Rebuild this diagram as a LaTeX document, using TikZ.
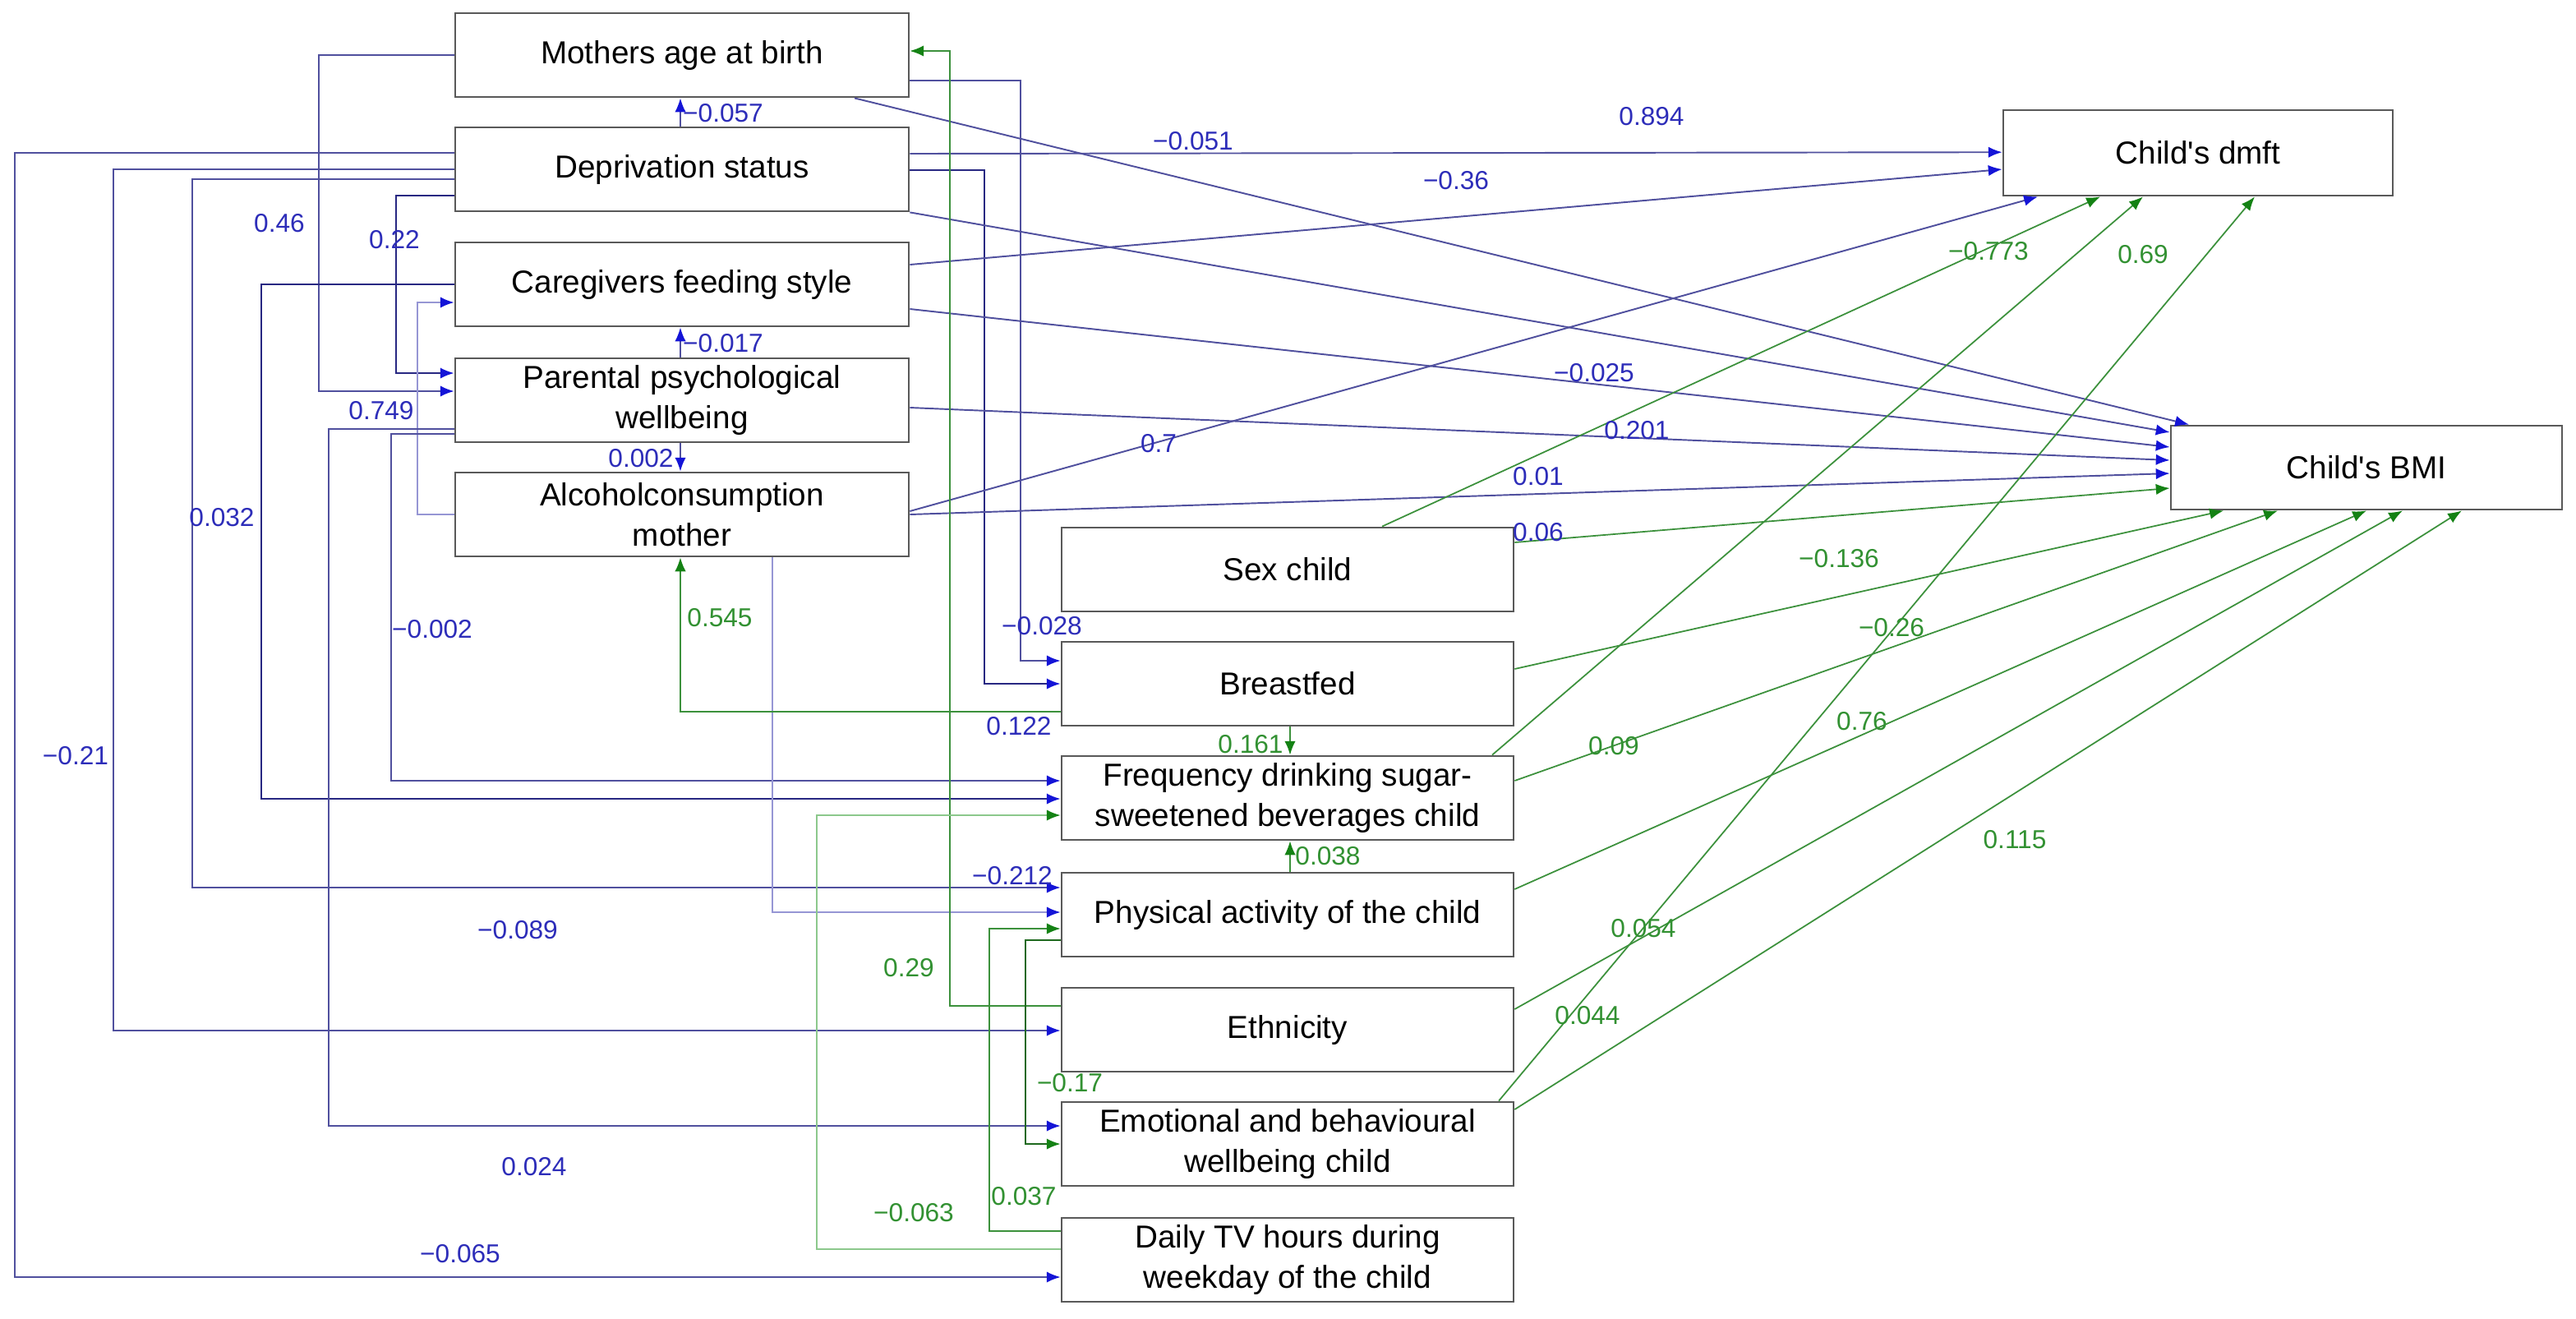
\documentclass[tikz,border=0pt]{standalone}
\usepackage{fontspec}
\setmainfont{Liberation Sans}[Ligatures=TeXOff]
\usetikzlibrary{arrows.meta,calc}
\definecolor{navy}{RGB}{40,40,130}
\definecolor{midblue}{RGB}{80,80,158}
\definecolor{paleblue}{RGB}{150,150,212}
\definecolor{tipblue}{RGB}{20,20,215}
\definecolor{labblue}{RGB}{45,45,185}
\definecolor{dkgreen}{RGB}{30,105,30}
\definecolor{midgreen}{RGB}{60,145,60}
\definecolor{palegreen}{RGB}{140,200,140}
\definecolor{tipgreen}{RGB}{20,130,20}
\definecolor{labgreen}{RGB}{50,145,50}
\begin{document}
\begin{tikzpicture}[x=0.02cm,y=-0.02cm,
  box/.style={draw=black!65, line width=0.8pt, fill=white, minimum height=1.02cm, inner sep=1pt, align=center, font=\fontsize{11}{14}\selectfont},
  lbox/.style={box, minimum width=5.52cm},
  mbox/.style={box, minimum width=5.5cm},
  tb/.style={-{Latex[length=4.8pt,width=3.8pt,color=tipblue]}},
  tg/.style={-{Latex[length=4.8pt,width=3.8pt,color=tipgreen]}},
  bn/.style={tb, draw=navy, line width=0.6pt},
  bl/.style={tb, draw=midblue, line width=0.55pt},
  bp/.style={tb, draw=paleblue, line width=0.55pt},
  gd/.style={tg, draw=dkgreen, line width=0.6pt},
  gm/.style={tg, draw=midgreen, line width=0.5pt},
  gp/.style={tg, draw=palegreen, line width=0.55pt},
  lb/.style={inner sep=0pt, text=labblue, font=\fontsize{9}{10}\selectfont},
  lg/.style={inner sep=0pt, text=labgreen, font=\fontsize{9}{10}\selectfont}
]
\useasboundingbox (0,0) rectangle (1567.5,802);
\fill[white] (0,0) rectangle (1567.5,802);

% boxes
\node[lbox] (mab) at (415,33.5) {Mothers age at birth};
\node[lbox] (dep) at (415,103) {Deprivation status};
\node[lbox] (cfs) at (415,173) {Caregivers feeding style};
\node[lbox] (ppw) at (415,243.5) {Parental psychological\\wellbeing};
\node[lbox] (alc) at (415,313) {Alcoholconsumption\\mother};
\node[mbox] (sex) at (783.5,346.5) {Sex child};
\node[mbox] (bf) at (783.5,416) {Breastfed};
\node[mbox] (fsb) at (783.5,485.5) {Frequency drinking sugar-\\sweetened beverages child};
\node[mbox] (pa) at (783.5,556.5) {Physical activity of the child};
\node[mbox] (eth) at (783.5,626.5) {Ethnicity};
\node[mbox] (ebw) at (783.5,696) {Emotional and behavioural\\wellbeing child};
\node[mbox] (tv) at (783.5,766.5) {Daily TV hours during\\weekday of the child};
\node[box, minimum width=4.74cm, minimum height=1.04cm] (dmft) at (1337.5,93) {Child's dmft};
\node[box, minimum width=4.76cm] (bmi) at (1440,284.5) {Child's BMI};

% blue orthogonal connectors on the left
\draw[bl] (dep.west |- 0,93) -| (9,777) -- (tv.west |- 0,777);
\draw[bl] (dep.west |- 0,103) -| (69,627) -- (eth.west |- 0,627);
\draw[bl] (dep.west |- 0,109) -| (117,540) -- (pa.west |- 0,540);
\draw[bn] (dep.west |- 0,119) -| (241,227) -- (ppw.west |- 0,227);
\draw[bl] (mab.west) -| (194,238) -- (ppw.west |- 0,238);
\draw[bn] (cfs.west) -| (159,486) -- (fsb.west |- 0,486);
\draw[bp] (alc.west) -| (254,184) -- (cfs.west |- 0,184);
\draw[bl] (ppw.west |- 0,261) -| (200,685) -- (ebw.west |- 0,685);
\draw[bl] (ppw.west |- 0,264) -| (238,475) -- (fsb.west |- 0,475);
\draw[bp] (470,0 |- alc.south) |- (pa.west |- 0,555);
\draw[bl] (mab.east |- 0,49) -| (621,402) -- (bf.west |- 0,402);
\draw[bn] (dep.east |- 0,103.5) -| (599,416) -- (bf.west);

% short vertical arrows
\draw[bl] (414,0 |- dep.north) -- (414,0 |- mab.south);
\draw[bl] (414,0 |- ppw.north) -- (414,0 |- cfs.south);
\draw[bl] (414,0 |- ppw.south) -- (414,0 |- alc.north);

% blue diagonals to outcomes
\draw[bl] (dep.east |- 0,93.5) -- (dmft.west |- 0,92.6);
\draw[bl] (cfs.east |- 0,161) -- (dmft.west |- 0,103);
\draw[bl] (alc.east |- 0,311) -- (1240,0 |- dmft.south);
\draw[bl] (520,0 |- mab.south) -- (1332,0 |- bmi.north);
\draw[bl] (dep.south east) -- (bmi.west |- 0,263);
\draw[bl] (cfs.east |- 0,188) -- (bmi.west |- 0,272);
\draw[bl] (ppw.east |- 0,248) -- (bmi.west |- 0,280);
\draw[bl] (alc.east |- 0,313) -- (bmi.west |- 0,288);

% green connectors
\draw[gm] (eth.west |- 0,612) -| (578,31) -- (mab.east |- 0,31);
\draw[gm] (bf.west |- 0,433) -| (414,0 |- alc.south);
\draw[gm] (785,0 |- bf.south) -- (785,0 |- fsb.north);
\draw[gm] (785,0 |- pa.north) -- (785,0 |- fsb.south);
\draw[gp] (tv.west |- 0,760) -| (497,496) -- (fsb.west |- 0,496);
\draw[gm] (tv.west |- 0,749) -| (602,565) -- (pa.west |- 0,565);
\draw[gd] (pa.west |- 0,572) -| (624,696) -- (ebw.west);
\draw[gm] (sex.east |- 0,330) -- (bmi.west |- 0,297);
\draw[gm] (841,0 |- sex.north) -- (1278,0 |- dmft.south);
\draw[gm] (908,0 |- fsb.north) -- (1304,0 |- dmft.south);
\draw[gm] (912,0 |- ebw.north) -- (1372,0 |- dmft.south);
\draw[gm] (bf.east |- 0,407) -- (1353,0 |- bmi.south);
\draw[gm] (fsb.east |- 0,475) -- (1386,0 |- bmi.south);
\draw[gm] (pa.east |- 0,541) -- (1440,0 |- bmi.south);
\draw[gm] (eth.east |- 0,614) -- (1462,0 |- bmi.south);
\draw[gm] (ebw.east |- 0,675) -- (1498,0 |- bmi.south);

% blue labels
\node[lb] (l1) at (440,69) {−0.057};
\node[lb] (l2) at (440,209) {−0.017};
\node[lb] (l3) at (390,279) {0.002};
\node[lb] (l4) at (170,136) {0.46};
\node[lb] (l5) at (240,146) {0.22};
\node[lb] (l6) at (232,250) {0.749};
\node[lb] (l7) at (135,315) {0.032};
\node[lb] (l8) at (263,383) {−0.002};
\node[lb] (l9) at (46,460) {−0.21};
\node[lb] (l10) at (315,566) {−0.089};
\node[lb] (l11) at (325,710) {0.024};
\node[lb] (l12) at (280,763) {−0.065};
\node[lb] (l13) at (620,442) {0.122};
\node[lb] (l14) at (634,381) {−0.028};
\node[lb] (l15) at (616,533) {−0.212};
\node[lb] (l16) at (726,86) {−0.051};
\node[lb] (l17) at (886,110) {−0.36};
\node[lb] (l18) at (1005,71) {0.894};
\node[lb] (l19) at (970,227) {−0.025};
\node[lb] (l20) at (996,262) {0.201};
\node[lb] (l21) at (936,290) {0.01};
\node[lb] (l22) at (936,324) {0.06};
\node[lb] (l23) at (705,270) {0.7};
% green labels
\node[lg] (m1) at (438,376) {0.545};
\node[lg] (m2) at (761,453) {0.161};
\node[lg] (m3) at (808,521) {0.038};
\node[lg] (m4) at (553,589) {0.29};
\node[lg] (m5) at (651,659) {−0.17};
\node[lg] (m6) at (623,728) {0.037};
\node[lg] (m7) at (556,738) {−0.063};
\node[lg] (m8) at (1210,153) {−0.773};
\node[lg] (m9) at (1304,155) {0.69};
\node[lg] (m10) at (1119,340) {−0.136};
\node[lg] (m11) at (1151,382) {−0.26};
\node[lg] (m12) at (982,454) {0.09};
\node[lg] (m13) at (1133,439) {0.76};
\node[lg] (m14) at (1226,511) {0.115};
\node[lg] (m15) at (1000,565) {0.054};
\node[lg] (m16) at (966,618) {0.044};
\end{tikzpicture}
\end{document}
